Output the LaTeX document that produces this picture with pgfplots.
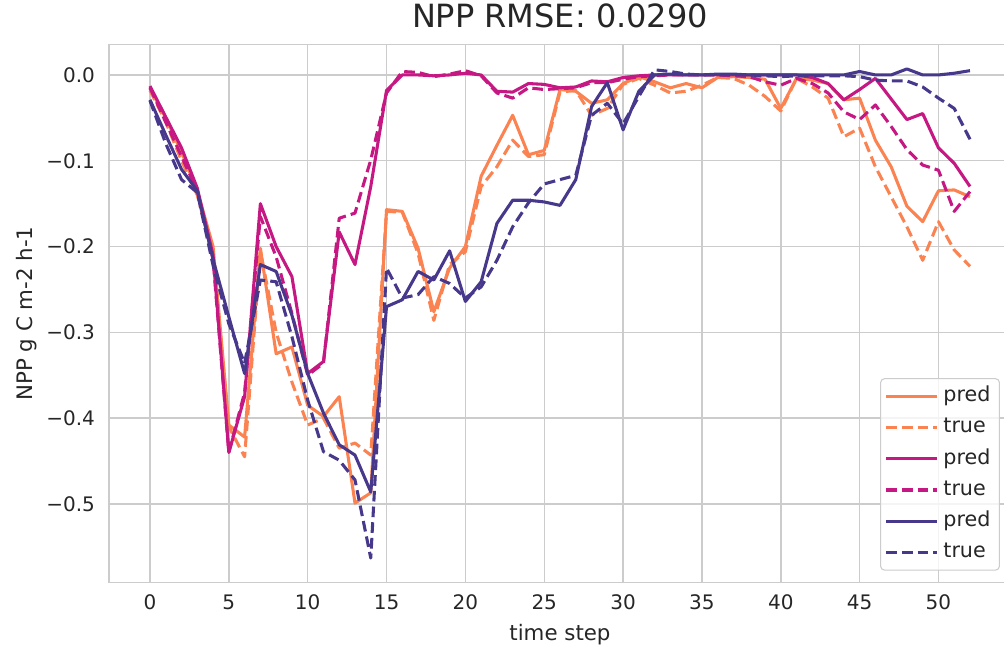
\documentclass[border=0pt]{standalone}
\usepackage{fontspec}
\setmainfont{DejaVu Sans}
\usepackage{pgfplots}
\usepackage{pgfplotstable}
\pgfplotsset{compat=1.18}
\definecolor{cO}{RGB}{251,131,82}
\definecolor{cM}{RGB}{198,24,130}
\definecolor{cP}{RGB}{72,56,140}
\definecolor{gridc}{RGB}{204,204,204}
\definecolor{tcol}{RGB}{38,38,38}

\pgfplotstableread{
x op ot mp mt pp pt
0 -0.016 -0.018 -0.013 -0.015 -0.029 -0.030
1 -0.050 -0.055 -0.049 -0.055 -0.070 -0.080
2 -0.090 -0.100 -0.085 -0.095 -0.110 -0.122
3 -0.135 -0.140 -0.132 -0.135 -0.135 -0.137
4 -0.200 -0.210 -0.210 -0.215 -0.215 -0.222
5 -0.408 -0.410 -0.440 -0.440 -0.282 -0.290
6 -0.422 -0.445 -0.375 -0.370 -0.348 -0.336
7 -0.202 -0.205 -0.150 -0.165 -0.221 -0.239
8 -0.325 -0.300 -0.200 -0.212 -0.229 -0.241
9 -0.317 -0.358 -0.235 -0.278 -0.280 -0.305
10 -0.385 -0.408 -0.348 -0.350 -0.348 -0.379
11 -0.398 -0.400 -0.334 -0.336 -0.394 -0.439
12 -0.375 -0.435 -0.183 -0.167 -0.431 -0.449
13 -0.499 -0.429 -0.221 -0.161 -0.443 -0.472
14 -0.487 -0.443 -0.130 -0.099 -0.486 -0.563
15 -0.157 -0.159 -0.018 -0.021 -0.270 -0.225
16 -0.159 -0.160 0.000 0.004 -0.262 -0.260
17 -0.202 -0.208 0.000 0.003 -0.229 -0.256
18 -0.276 -0.286 -0.001 -0.002 -0.239 -0.235
19 -0.225 -0.221 0.000 0.001 -0.205 -0.243
20 -0.200 -0.206 0.002 0.005 -0.264 -0.260
21 -0.118 -0.130 0.000 -0.001 -0.241 -0.247
22 -0.082 -0.107 -0.019 -0.021 -0.173 -0.216
23 -0.047 -0.076 -0.020 -0.027 -0.146 -0.177
24 -0.093 -0.095 -0.010 -0.015 -0.146 -0.149
25 -0.088 -0.093 -0.011 -0.017 -0.148 -0.127
26 -0.017 -0.020 -0.015 -0.016 -0.152 -0.122
27 -0.019 -0.018 -0.014 -0.015 -0.122 -0.117
28 -0.033 -0.047 -0.007 -0.009 -0.037 -0.047
29 -0.029 -0.039 -0.008 -0.009 -0.009 -0.033
30 -0.010 -0.011 -0.003 -0.005 -0.064 -0.057
31 -0.002 -0.004 -0.001 -0.002 -0.019 -0.025
32 -0.008 -0.012 0.000 -0.001 0.000 0.006
33 -0.015 -0.021 0.000 0.000 0.001 0.004
34 -0.010 -0.019 0.000 0.000 0.000 0.001
35 -0.015 -0.012 0.000 0.000 0.000 0.000
36 -0.003 -0.003 0.000 0.000 0.001 0.000
37 -0.002 -0.004 0.000 -0.001 0.001 0.000
38 -0.003 -0.012 0.000 -0.002 0.000 0.000
39 -0.005 -0.025 0.000 -0.008 0.000 -0.001
40 -0.039 -0.042 0.000 -0.012 0.000 -0.002
41 -0.004 -0.004 0.000 -0.004 0.000 -0.001
42 -0.006 -0.014 -0.003 -0.010 0.000 -0.001
43 -0.010 -0.027 -0.010 -0.021 0.000 -0.001
44 -0.029 -0.072 -0.029 -0.043 0.000 -0.001
45 -0.027 -0.062 -0.017 -0.052 0.004 -0.002
46 -0.076 -0.107 -0.004 -0.035 0.000 -0.006
47 -0.107 -0.142 -0.028 -0.060 0.000 -0.007
48 -0.153 -0.177 -0.052 -0.087 0.007 -0.007
49 -0.171 -0.216 -0.045 -0.105 0.000 -0.014
50 -0.135 -0.171 -0.085 -0.111 0.000 -0.027
51 -0.134 -0.204 -0.103 -0.159 0.002 -0.039
52 -0.142 -0.223 -0.130 -0.136 0.005 -0.075
}\data

\begin{document}
\begin{tikzpicture}
\begin{axis}[
  scale only axis,
  width=676.5pt, height=403.5pt,
  xmin=-2.6, xmax=54.6, ymin=-0.5917, ymax=0.0353,
  axis line style={draw=gridc, line width=1pt},
  grid=major,
  major grid style={draw=gridc, line width=1.1pt},
  major tick length=0pt,
  xtick={0,5,...,50},
  ytick={-0.5,-0.4,-0.3,-0.2,-0.1,0},
  yticklabels={−0.5,−0.4,−0.3,−0.2,−0.1,0.0},
  /pgf/number format/assume math mode=true,
  xticklabel style={font=\fontsize{15}{17}\selectfont, text=tcol, yshift=-5.8pt},
  yticklabel style={font=\fontsize{15}{17}\selectfont, text=tcol, xshift=-7pt},
  title={NPP RMSE: 0.0290},
  title style={font=\fontsize{24}{28}\selectfont, text=tcol, at={(axis description cs:0.5,1)}, anchor=base, yshift=6.5pt},
  xlabel={time step},
  xlabel style={font=\fontsize{16}{19}\selectfont, text=tcol, at={(axis description cs:0.5,0)}, anchor=base, yshift=-43.5pt},
  ylabel={NPP g C m-2 h-1},
  ylabel style={font=\fontsize{16}{19}\selectfont, text=tcol, at={(axis description cs:-0.0843,0.5)}, anchor=base, rotate=0},
  legend cell align=left,
  legend image code/.code={\draw[#1, line width=2.3pt] (0pt,0pt) -- (38pt,0pt);},
  legend style={at={(axis description cs:0.9878,0.0223)}, anchor=south east,
    draw=gridc, line width=0.8pt, rounded corners=3pt, fill=white, fill opacity=0.8, text opacity=1,
    font=\fontsize{15.5}{18}\selectfont, text=tcol,
    row sep=0.8pt,
    nodes={text height=11.5pt, text depth=3.5pt, inner sep=3.8pt},
    /tikz/every even column/.append style={column sep=3pt}},
]
\addplot[cO, line width=2.3pt, line join=round] table[x=x, y=op] {\data};
\addlegendentry{pred}
\addplot[cO, line width=2.3pt, line join=round, dash pattern=on 8pt off 3.8pt] table[x=x, y=ot] {\data};
\addlegendentry{true}
\addplot[cM, line width=2.3pt, line join=round] table[x=x, y=mp] {\data};
\addlegendentry{pred}
\addplot[cM, line width=2.3pt, line join=round, dash pattern=on 8pt off 3.8pt] table[x=x, y=mt] {\data};
\addlegendentry{true}
\addplot[cP, line width=2.3pt, line join=round] table[x=x, y=pp] {\data};
\addlegendentry{pred}
\addplot[cP, line width=2.3pt, line join=round, dash pattern=on 8pt off 3.8pt] table[x=x, y=pt] {\data};
\addlegendentry{true}
\end{axis}
\pgfresetboundingbox
\useasboundingbox ([xshift=-81.75pt,yshift=-52pt]current axis.south west) rectangle ([xshift=-5.25pt,yshift=33.5pt]current axis.north east);
\end{tikzpicture}
\end{document}
